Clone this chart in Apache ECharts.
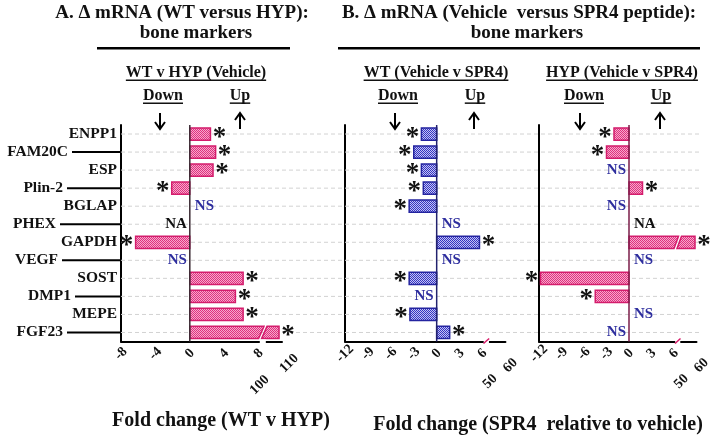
<!DOCTYPE html>
<html>
<head>
<meta charset="utf-8">
<script src="https://cdn.jsdelivr.net/npm/echarts@6/dist/echarts.min.js"></script>
<style>
  html, body { margin: 0; padding: 0; background: #fff; }
  #chart { width: 717px; height: 437px; }
</style>
</head>
<body>
<div id="chart"></div>
<script>
// bone markers, top to bottom
const markers = ['ENPP1', 'FAM20C', 'ESP', 'Plin-2', 'BGLAP', 'PHEX', 'GAPDH', 'VEGF', 'SOST', 'DMP1', 'MEPE', 'FGF23'];

// fold changes (null = NS / NA, no bar)
const wtVsHyp = [2.4, 3.0, 2.7, -2.1, null, null, -6.3, null, 6.2, 5.3, 6.2, 108];
const sigWtVsHyp = ['*', '*', '*', '*', 'NS', 'NA', '*', 'NS', '*', '*', '*', '*'];

const wtSpr4 = [-2.0, -3.0, -2.0, -1.75, -3.6, null, 5.6, null, -3.6, null, -3.5, 1.7];
const sigWtSpr4 = ['*', '*', '*', '*', '*', 'NS', '*', 'NS', '*', 'NS', '*', '*'];

const hypSpr4 = [-2.0, -3.0, null, 1.8, null, null, 59, null, -11.8, -4.5, null, null];
const sigHypSpr4 = ['*', '*', 'NS', '*', 'NS', 'NA', '*', 'NS', '*', '*', 'NS', 'NS'];

// tick labels of the x axes
const ticksA = [-8, -4, 0, 4, 8, 100, 110];
const ticksB = [-12, -9, -6, -3, 0, 3, 6, 50, 60];

// which side the NS / NA text sits on (1 right of zero, -1 left)
const nsSideA = { BGLAP: 1, PHEX: -1, VEGF: -1 };
const nsSideB1 = { PHEX: 1, VEGF: 1, DMP1: -1 };
const nsSideB2 = { ESP: -1, BGLAP: -1, PHEX: 1, VEGF: 1, MEPE: 1, FGF23: -1 };

// broken axis: values above `high` are squeezed after a small gap
const breakA = { low: 8, high: 100, gap: 0.98, per: 0.1744 };
const breakB = { low: 6, high: 50, gap: 1.0, per: 0.2 };
function toAxis(v, b) { return v <= b.low ? v : b.low + b.gap + (v - b.high) * b.per; }
function fromAxis(d, b) { return d <= b.low + 1e-6 ? d : b.high + (d - b.low - b.gap) / b.per; }

const FONT = '"Liberation Serif", "Times New Roman", serif';
const TOP = 125, HEIGHT = 216.5;

function makePattern(dark, light) {
  const c = document.createElement('canvas');
  c.width = 2; c.height = 2;
  const ctx = c.getContext('2d');
  ctx.fillStyle = light; ctx.fillRect(0, 0, 2, 2);
  ctx.fillStyle = dark; ctx.fillRect(0, 0, 1, 1); ctx.fillRect(1, 1, 1, 1);
  return { image: c, repeat: 'repeat' };
}
const pinkFill = makePattern('#e0307f', '#f5aacb');
const blueFill = makePattern('#3434c4', '#c4c4f0');

const panels = [
  { vals: wtVsHyp, sig: sigWtVsHyp, side: nsSideA, brk: breakA, ticks: ticksA, left: 121, ppu: 8.6,
    fill: pinkFill, stroke: '#d41c6c', zero: '#3a2a33', slash: false, longAlign: 'right', longMargin: 36 },
  { vals: wtSpr4, sig: sigWtSpr4, side: nsSideB1, brk: breakB, ticks: ticksB, left: 345, ppu: 7.64,
    fill: blueFill, stroke: '#2424a0', zero: '#22226e', slash: true, longAlign: 'center', longMargin: 40 },
  { vals: hypSpr4, sig: sigHypSpr4, side: nsSideB2, brk: breakB, ticks: ticksB, left: 539, ppu: 7.5,
    fill: pinkFill, stroke: '#d41c6c', zero: '#7a1c48', slash: true, longAlign: 'center', longMargin: 40 }
];

const grids = [], xAxes = [], yAxes = [], series = [];
const tickLabel = { rotate: 45, fontSize: 14, fontWeight: 'bold', fontFamily: FONT, color: '#111' };

panels.forEach((p, k) => {
  const min = p.ticks[0];
  const max = toAxis(p.ticks[p.ticks.length - 1], p.brk);
  grids.push({ left: p.left, top: TOP, width: (max - min) * p.ppu, height: HEIGHT, outerBoundsMode: 'none' });

  const regular = p.ticks.filter(t => t <= p.brk.low);
  const longT = [toAxis(p.brk.high, p.brk)];
  const farT = [max];
  const fmt = v => String(Math.round(fromAxis(v, p.brk)));
  const base = { type: 'value', gridIndex: k, min, max, position: 'bottom', splitLine: { show: false } };

  xAxes.push(Object.assign({}, base, {
    axisLine: { show: true, onZero: false, lineStyle: { color: '#000', width: 2 } },
    axisTick: { customValues: regular, length: 3, lineStyle: { color: '#000', width: 2 } },
    axisLabel: Object.assign({ customValues: regular, margin: 12, align: 'center', verticalAlign: 'middle', formatter: fmt }, tickLabel)
  }));
  xAxes.push(Object.assign({}, base, {
    axisLine: { show: false },
    axisTick: { customValues: longT, length: 28, lineStyle: { color: '#000', width: 2 } },
    axisLabel: Object.assign({ customValues: longT, margin: p.longMargin, align: p.longAlign, verticalAlign: 'middle', formatter: fmt }, tickLabel)
  }));
  xAxes.push(Object.assign({}, base, {
    axisLine: { show: false },
    axisTick: { customValues: farT, length: 9, lineStyle: { color: '#000', width: 2 } },
    axisLabel: Object.assign({ customValues: farT, margin: 29, align: 'left', verticalAlign: 'middle', formatter: fmt }, tickLabel)
  }));

  yAxes.push({
    type: 'category', gridIndex: k, data: markers, inverse: true,
    axisLine: { onZero: false, lineStyle: { color: '#000', width: 2 } },
    axisTick: { alignWithLabel: true, length: k === 0 ? 4 : 3, lineStyle: { color: '#000', width: 2 } },
    axisLabel: { show: false },
    splitLine: { show: false }
  });

  // bars with their significance marks
  series.push({
    type: 'custom', xAxisIndex: k * 3, yAxisIndex: k, z: 3, clip: false, silent: true,
    data: p.vals.map((v, i) => [v == null ? 0 : toAxis(v, p.brk), i]),
    encode: { x: 0, y: 1 },
    renderItem(params, api) {
      const i = api.value(1);
      const raw = p.vals[i];
      const c0 = api.coord([0, i]);
      const x0 = c0[0], y = c0[1];
      const h = api.size([0, 1])[1] * 0.68;
      const style = { fill: p.fill, stroke: p.stroke, lineWidth: 1.5 };
      const children = [];
      let xEnd = x0, side;
      if (raw != null) {
        side = raw > 0 ? 1 : -1;
        xEnd = api.coord([toAxis(raw, p.brk), i])[0];
        if (raw > p.brk.low) {
          const xL = api.coord([p.brk.low, i])[0];
          const xH = api.coord([toAxis(p.brk.high, p.brk), i])[0];
          children.push({ type: 'polygon', shape: { points: [[x0, y - h / 2], [xH - 3, y - h / 2], [xL, y + h / 2], [x0, y + h / 2]] }, style });
          children.push({ type: 'polygon', shape: { points: [[xH, y - h / 2], [xEnd, y - h / 2], [xEnd, y + h / 2], [xL + 3, y + h / 2]] }, style });
        } else {
          children.push({ type: 'rect', shape: { x: Math.min(x0, xEnd), y: y - h / 2, width: Math.abs(xEnd - x0), height: h }, style });
        }
      } else {
        side = p.side[markers[i]] || 1;
      }
      const mark = p.sig[i];
      if (mark === '*') {
        children.push({ type: 'text', x: xEnd + side * 9, y: y + 4,
          style: { text: '*', font: 'bold 27px ' + FONT, fill: '#111', align: 'center', verticalAlign: 'middle', textAlign: 'center', textVerticalAlign: 'middle' } });
      } else {
        const al = side > 0 ? 'left' : 'right';
        children.push({ type: 'text', x: x0 + (side > 0 ? 5 : -3), y: y,
          style: { text: mark, font: 'bold 15px ' + FONT, fill: mark === 'NS' ? '#2e2e9e' : '#111', align: al, verticalAlign: 'middle', textAlign: al, textVerticalAlign: 'middle' } });
      }
      return { type: 'group', children };
    }
  });

  // zero line and the axis break mark
  series.push({
    type: 'custom', xAxisIndex: k * 3, yAxisIndex: k, z: 4, clip: false, silent: true,
    data: [[0, 0]],
    encode: { x: 0, y: 1 },
    renderItem(params, api) {
      const cs = params.coordSys;
      const bottom = cs.y + cs.height;
      const xz = api.coord([0, 0])[0];
      const xL = api.coord([p.brk.low, 0])[0];
      const xH = api.coord([toAxis(p.brk.high, p.brk), 0])[0];
      const children = [
        { type: 'line', shape: { x1: xz, y1: cs.y, x2: xz, y2: bottom }, style: { stroke: p.zero, lineWidth: 1.5 } },
        { type: 'rect', shape: { x: xL + 1.2, y: bottom - 2, width: xH - xL - 2.4, height: 4 }, style: { fill: '#fff' } }
      ];
      if (p.slash) {
        children.push({ type: 'line', shape: { x1: xL + 1, y1: bottom + 2, x2: xH - 1, y2: bottom - 3 }, style: { stroke: '#d81b69', lineWidth: 1.5 } });
      }
      return { type: 'group', children };
    }
  });
});

// category labels on panel A, every other one pushed out by a long leader line
const leadLen = { 'FAM20C': 45, 'Plin-2': 50, 'PHEX': 57, 'VEGF': 55, 'DMP1': 42, 'FGF23': 50 };
const rich = { t: { fontSize: 15.5, fontWeight: 'bold', fontFamily: FONT, color: '#111' } };
Object.keys(leadLen).forEach(n => { rich['g' + leadLen[n]] = { width: leadLen[n] + 4 }; });
yAxes[0].axisLabel = {
  show: true, margin: 4, rich,
  formatter: v => leadLen[v] ? `{t|${v}}{g${leadLen[v]}| }` : `{t|${v}}`
};
series.push({
  type: 'custom', xAxisIndex: 0, yAxisIndex: 0, z: 4, clip: false, silent: true,
  data: markers.map((m, i) => [0, i]).filter(d => leadLen[markers[d[1]]]),
  encode: { x: 0, y: 1 },
  renderItem(params, api) {
    const cs = params.coordSys;
    const i = api.value(1);
    const y = api.coord([0, i])[1];
    return { type: 'line', shape: { x1: cs.x - 4 - leadLen[markers[i]], y1: y, x2: cs.x, y2: y },
      style: { stroke: '#000', lineWidth: 2 } };
  }
});

// background grid carrying the dashed row lines across all panels
grids.push({ left: 121, top: TOP, width: 579, height: HEIGHT, outerBoundsMode: 'none' });
xAxes.push({ type: 'value', gridIndex: 3, min: 0, max: 1, show: false });
yAxes.push({ type: 'category', gridIndex: 3, data: markers, inverse: true, show: false });
series.unshift({
  type: 'custom', xAxisIndex: 9, yAxisIndex: 3, z: 1, silent: true,
  data: markers.map((m, i) => [0, i]),
  encode: { x: 0, y: 1 },
  renderItem(params, api) {
    const cs = params.coordSys;
    const y = api.coord([0, api.value(1)])[1];
    return { type: 'line', shape: { x1: cs.x, y1: y, x2: cs.x + cs.width, y2: y },
      style: { stroke: '#d2d2d2', lineWidth: 1, lineDash: [4, 3] } };
  }
});

// titles and annotations
const mctx = document.createElement('canvas').getContext('2d');
function textWidth(t, size) { mctx.font = `bold ${size}px ${FONT}`; return mctx.measureText(t).width; }
function txt(text, x, y, size) {
  return { type: 'text', x, y, style: { text, font: `bold ${size}px ${FONT}`, fill: '#111',
    align: 'center', verticalAlign: 'middle', textAlign: 'center', textVerticalAlign: 'middle' } };
}
function underlined(text, x, y, size) {
  const w = textWidth(text, size);
  return [txt(text, x, y, size),
    { type: 'rect', shape: { x: x - w / 2, y: y + size * 0.4, width: w, height: 1.5 }, style: { fill: '#111' } }];
}
function arrow(x, down) {
  const y1 = 113, y2 = 129;
  const tip = down ? y2 : y1, d = down ? -7 : 7;
  return [
    { type: 'line', shape: { x1: x, y1, x2: x, y2 }, style: { stroke: '#000', lineWidth: 2 } },
    { type: 'polyline', shape: { points: [[x - 5, tip + d], [x, tip], [x + 5, tip + d]] }, style: { stroke: '#000', lineWidth: 2, fill: null } }
  ];
}
const elements = [
  txt('A. Δ mRNA (WT versus HYP):', 182, 13, 19),
  txt('bone markers', 196, 33, 19),
  { type: 'rect', shape: { x: 97, y: 47, width: 193, height: 2.5 }, style: { fill: '#000' } },
  txt('B. Δ mRNA (Vehicle  versus SPR4 peptide):', 519, 13, 19),
  txt('bone markers', 527, 33, 19),
  { type: 'rect', shape: { x: 338, y: 47, width: 362, height: 2.5 }, style: { fill: '#000' } },
  ...underlined('WT v HYP (Vehicle)', 196, 73, 16),
  ...underlined('WT (Vehicle v SPR4)', 436, 73, 16),
  ...underlined('HYP (Vehicle v SPR4)', 622, 73, 16),
  ...underlined('Down', 163, 96, 16), ...arrow(160, true),
  ...underlined('Up', 240, 96, 16), ...arrow(240, false),
  ...underlined('Down', 398, 96, 16), ...arrow(395, true),
  ...underlined('Up', 475, 96, 16), ...arrow(474, false),
  ...underlined('Down', 584, 96, 16), ...arrow(580, true),
  ...underlined('Up', 661, 96, 16), ...arrow(660, false),
  txt('Fold change (WT v HYP)', 221, 421, 20),
  txt('Fold change (SPR4  relative to vehicle)', 538, 425, 20)
];

const chart = echarts.init(document.getElementById('chart'));
chart.setOption({
  animation: false,
  textStyle: { fontFamily: FONT },
  grid: grids,
  xAxis: xAxes,
  yAxis: yAxes,
  series,
  graphic: { elements }
});
</script>
</body>
</html>
